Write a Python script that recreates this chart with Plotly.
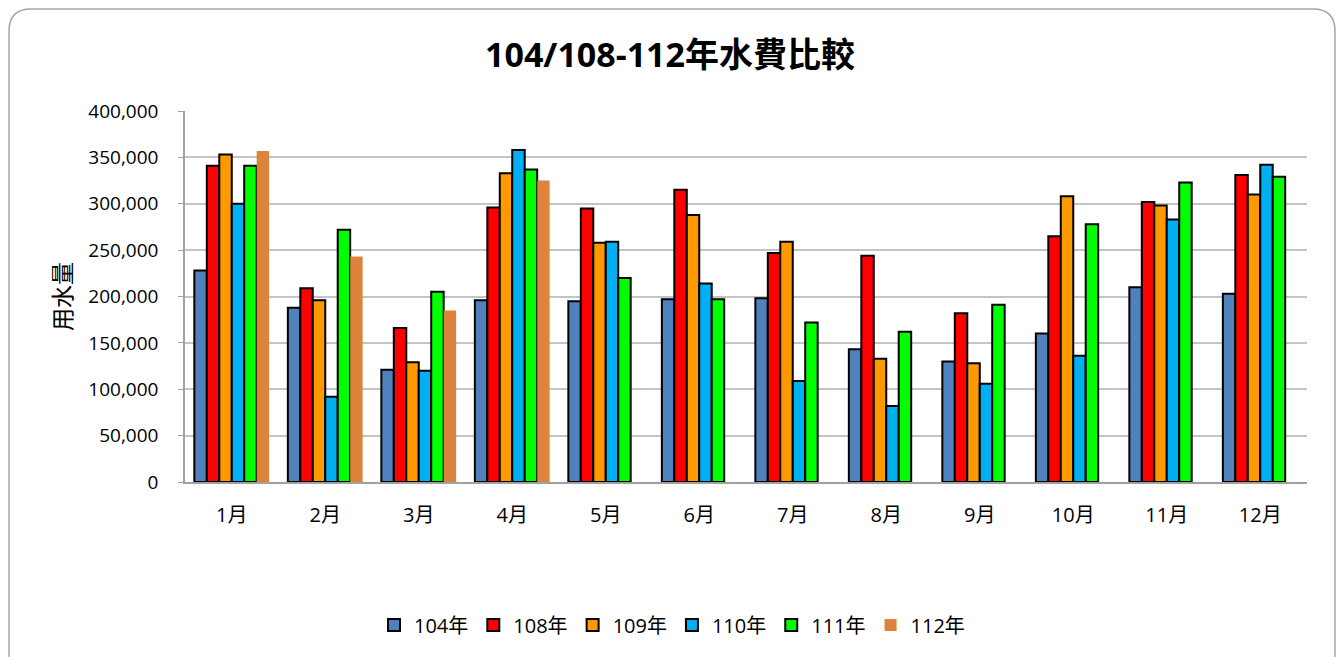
import plotly.graph_objects as go

months = ["1月", "2月", "3月", "4月", "5月", "6月", "7月", "8月", "9月", "10月", "11月", "12月"]
series_names = ["104年", "108年", "109年", "110年", "111年", "112年"]
v104 = [228000, 188000, 121000, 196000, 195000, 197000, 198000, 143000, 130000, 160000, 210000, 203000]
v108 = [341000, 209000, 166000, 296000, 295000, 315000, 247000, 244000, 182000, 265000, 302000, 331000]
v109 = [353000, 196000, 129000, 333000, 258000, 288000, 259000, 133000, 128000, 308000, 298000, 310000]
v110 = [300000, 92000, 120000, 358000, 259000, 214000, 109000, 82000, 106000, 136000, 283000, 342000]
v111 = [341000, 272000, 205000, 337000, 220000, 197000, 172000, 162000, 191000, 278000, 323000, 329000]
v112 = [357000, 243000, 185000, 325000, None, None, None, None, None, None, None, None]
colors = ["#4F81BD", "#FF0000", "#FF9900", "#00B0F0", "#00FF00", "#DC843C"]

FONT = "Open Sans, Noto Sans CJK TC, sans-serif"

fig = go.Figure()
for name, vals, col in zip(series_names, [v104, v108, v109, v110, v111, v112], colors):
    line = dict(color="#000000", width=2) if name != "112年" else dict(width=0)
    fig.add_trace(go.Bar(x=months, y=vals, name=name, marker=dict(color=col, line=line)))

# page is offset by 8px body margin; work in figure coordinates (page - 8)
OFF = 8
W, H = 1336, 649
L, T = 185 - OFF, 111 - OFF
R = W - (1307 - OFF)
B = H - (482 - OFF)
pw, ph = W - L - R, H - T - B

def px2paper(x, y):
    return (x - OFF - L) / pw, (H - B - (y - OFF)) / ph

def P(x, y):
    a, b = px2paper(x, y)
    return f"{a:.5f},{b:.5f}"

x0, y0, x1, y1, r = 9, 9, 1335, 720, 22
path = (f"M {P(x0 + r, y0)} L {P(x1 - r, y0)} Q {P(x1, y0)} {P(x1, y0 + r)} "
        f"L {P(x1, y1 - r)} Q {P(x1, y1)} {P(x1 - r, y1)} L {P(x0 + r, y1)} "
        f"Q {P(x0, y1)} {P(x0, y1 - r)} L {P(x0, y0 + r)} Q {P(x0, y0)} {P(x0 + r, y0)} Z")

fig.update_layout(
    width=W, height=H,
    margin=dict(l=L, r=R, t=T, b=B),
    paper_bgcolor="white", plot_bgcolor="white",
    barmode="group", bargap=0.2, bargroupgap=0,
    font=dict(family=FONT, size=19, color="#000000"),
    title=dict(text="<b>104/108-112年水費比較</b>", x=(670 - OFF) / W, xanchor="center",
               y=1 - (55 - OFF) / H, yanchor="middle", xref="container", yref="container",
               font=dict(size=34, family=FONT, color="#000000")),
    xaxis=dict(showline=True, linecolor="#A0A0A0", linewidth=1.5, ticks="",
               tickfont=dict(size=20), showgrid=False, ticklabelstandoff=14),
    yaxis=dict(range=[0, 400000], dtick=50000, tickformat=",", showgrid=True,
               gridcolor="#C4C4C4", gridwidth=1.5, showline=True, linecolor="#A0A0A0",
               linewidth=1.5, ticks="outside", ticklen=5, tickcolor="#A0A0A0",
               tickfont=dict(size=19), zeroline=False, ticklabelstandoff=16,
               title=dict(text="用水量", font=dict(size=23), standoff=10)),
    legend=dict(orientation="h", x=px2paper(672, 0)[0], xanchor="center",
                y=px2paper(0, 625)[1], yanchor="middle", font=dict(size=20),
                itemwidth=30, tracegroupgap=0),
    shapes=[dict(type="path", path=path, xref="paper", yref="paper",
                 line=dict(color="#A6A6A6", width=1.5), fillcolor="rgba(0,0,0,0)", layer="below")],
)

fig.write_html("out.html")
